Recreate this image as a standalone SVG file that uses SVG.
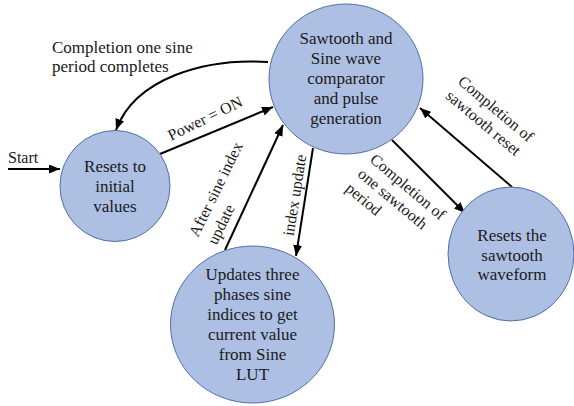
<svg xmlns="http://www.w3.org/2000/svg" width="574" height="406" viewBox="0 0 574 406" font-family="Liberation Serif, serif">
<style>
.n{fill:#adc0e4;stroke:#4f6fa8;stroke-width:1}
.t{font-size:17px;fill:#1a1a1a;text-anchor:middle}
.l{font-size:16px;fill:#1a1a1a}
.big{font-size:17px}
.c{fill:none;stroke:#000;stroke-width:2;marker-end:url(#ah)}
</style>
<defs>
<marker id="ah" markerUnits="userSpaceOnUse" markerWidth="12" markerHeight="10" refX="11" refY="4.5" orient="auto">
<path d="M0,0 L11,4.5 L0,9 z" fill="#000"/>
</marker>
</defs>
<g id="connectors">
<line class="c" x1="8" y1="169" x2="60" y2="169"/>
<line class="c" x1="160" y1="154" x2="273" y2="107"/>
<path class="c" d="M268 62 C205 58 135 78 116 130"/>
<line class="c" x1="225" y1="250" x2="283" y2="125"/>
<line class="c" x1="313" y1="148" x2="296" y2="256"/>
<line class="c" x1="392" y1="140" x2="465" y2="213"/>
<line class="c" x1="512" y1="187" x2="420" y2="108"/>
</g>
<g id="labels">
<text class="l" x="8" y="163">Start</text>
<text class="l big" x="52" y="53">Completion one sine</text>
<text class="l big" x="52" y="72">period completes</text>
<text class="l" transform="translate(171,141) rotate(-26)">Power = ON</text>
<text class="l" transform="translate(198,238) rotate(-64)"><tspan x="0" y="0">After sine index</tspan><tspan x="1" dy="20">update</tspan></text>
<text class="l" text-anchor="middle" transform="translate(300,196) rotate(-81)">index update</text>
<text class="l" transform="translate(369,161) rotate(40)"><tspan x="0" y="0">Completion of</tspan><tspan x="0" dy="19">one sawtooth</tspan><tspan x="0" dy="19">period</tspan></text>
<text class="l" transform="translate(457,83) rotate(40)"><tspan x="0" y="0">Completion of</tspan><tspan x="0" dy="19">sawtooth reset</tspan></text>
</g>
<g id="node-compare">
<ellipse class="n" cx="346" cy="79" rx="77" ry="75"/>
<text class="t" x="346" y="44">Sawtooth and</text>
<text class="t" x="346" y="64">Sine wave</text>
<text class="t" x="346" y="84">comparator</text>
<text class="t" x="346" y="104">and pulse</text>
<text class="t" x="346" y="124">generation</text>
</g>
<g id="node-init">
<ellipse class="n" cx="115" cy="186" rx="55" ry="55.5"/>
<text class="t" x="115" y="172">Resets to</text>
<text class="t" x="115" y="192">initial</text>
<text class="t" x="115" y="212">values</text>
</g>
<g id="node-update">
<ellipse class="n" cx="252.5" cy="324.5" rx="82" ry="78.5"/>
<text class="t" x="252.5" y="280">Updates three</text>
<text class="t" x="252.5" y="300">phases sine</text>
<text class="t" x="252.5" y="320">indices to get</text>
<text class="t" x="252.5" y="340">current value</text>
<text class="t" x="252.5" y="360">from Sine</text>
<text class="t" x="252.5" y="380">LUT</text>
</g>
<g id="node-reset">
<ellipse class="n" cx="511" cy="254" rx="63" ry="67"/>
<text class="t" x="512" y="241">Resets the</text>
<text class="t" x="512" y="261">sawtooth</text>
<text class="t" x="512" y="280">waveform</text>
</g>
</svg>
